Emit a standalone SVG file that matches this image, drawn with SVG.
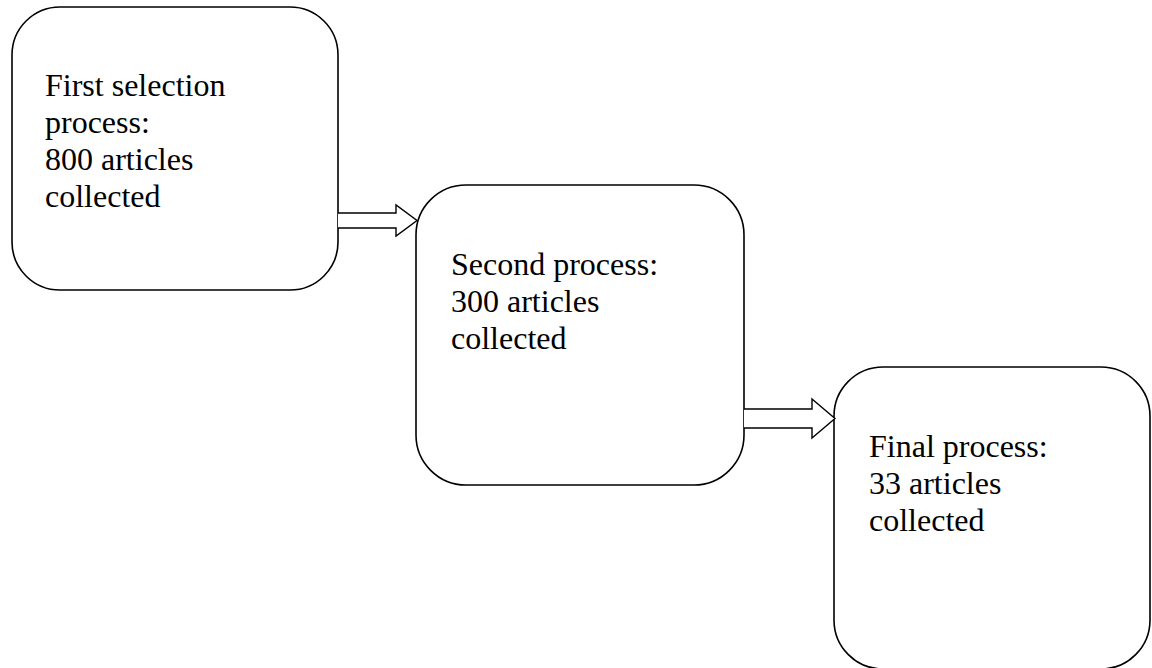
<svg xmlns="http://www.w3.org/2000/svg" width="1152" height="668" viewBox="0 0 1152 668">
  <style>
    .box { fill: #ffffff; stroke: #000000; stroke-width: 1.6; }
    .arrow { fill: #ffffff; stroke: #000000; stroke-width: 1.4; stroke-linejoin: miter; }
    .label { font-family: "Liberation Serif", "Times New Roman", serif; font-size: 32px; fill: #000000; }
  </style>
  <rect width="1152" height="668" fill="#ffffff"/>

  <g id="node-first">
    <rect class="box" x="12" y="7" width="326" height="283" rx="48" ry="48"/>
    <text class="label">
      <tspan x="45" y="96">First selection</tspan>
      <tspan x="45" y="133">process:</tspan>
      <tspan x="45" y="170">800 articles</tspan>
      <tspan x="45" y="207">collected</tspan>
    </text>
  </g>

  <g id="node-second">
    <rect class="box" x="416" y="185" width="328" height="300" rx="50" ry="50"/>
    <text class="label">
      <tspan x="451" y="275">Second process:</tspan>
      <tspan x="451" y="312">300 articles</tspan>
      <tspan x="451" y="349">collected</tspan>
    </text>
  </g>

  <g id="node-final">
    <rect class="box" x="834" y="367" width="316" height="302" rx="49" ry="49"/>
    <text class="label">
      <tspan x="869" y="457">Final process:</tspan>
      <tspan x="869" y="494">33 articles</tspan>
      <tspan x="869" y="531">collected</tspan>
    </text>
  </g>

  <g id="connectors">
    <!-- hollow block arrow: first -> second -->
    <path class="arrow" d="M338,213 L396,213 L396,205 L417,220.5 L396,236 L396,228 L338,228"/>
    <!-- hollow block arrow: second -> final -->
    <path class="arrow" d="M744,409 L812,409 L812,399 L835,418.5 L812,438 L812,428 L744,428"/>
  </g>
</svg>
